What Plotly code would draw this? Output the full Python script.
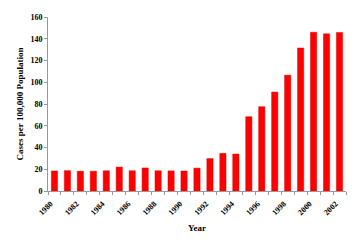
import plotly.graph_objects as go

years = [str(y) for y in range(1980, 2003)]
cases = [18.4, 18.7, 18.2, 18.2, 18.6, 22.0, 18.6, 21.2, 18.6, 18.5, 18.4,
         21.0, 29.8, 34.6, 34.0, 68.3, 77.5, 91.0, 106.5, 131.5, 146.0, 144.5, 145.8]
tick_labels = [y if int(y) % 2 == 0 else "" for y in years]

font_fam = "Liberation Serif"

fig = go.Figure(go.Bar(x=years, y=cases, marker=dict(color="#ff0000", line=dict(color="#e00000", width=0.5))))
fig.update_layout(
    width=358, height=248,
    margin=dict(l=48, r=12, t=17, b=57),
    paper_bgcolor="white", plot_bgcolor="white",
    bargap=0.52,
    showlegend=False,
    font=dict(family=font_fam, size=8, color="black"),
)
fig.update_xaxes(
    type="category",
    tickmode="array", tickvals=years, ticktext=tick_labels,
    tickangle=-45,
    tickfont=dict(family=font_fam, size=8, color="black", weight="bold"),
    showline=True, linecolor="#999999", linewidth=1,
    ticks="outside", ticklen=3, tickcolor="#999999", tickson="boundaries",
    ticklabelstandoff=4, ticklabelshift=-4,
    title=dict(text="<b>Year</b>", font=dict(family=font_fam, size=9, color="black"), standoff=8),
    showgrid=False,
)
fig.update_yaxes(
    range=[0, 160], tickmode="linear", tick0=0, dtick=20,
    tickfont=dict(family=font_fam, size=8, color="black", weight="bold"),
    showline=True, linecolor="#999999", linewidth=1,
    ticks="outside", ticklen=3, tickcolor="#999999",
    title=dict(text="<b>Cases per 100,000 Population</b>", font=dict(family=font_fam, size=9, color="black"), standoff=5),
    showgrid=False, zeroline=False,
)
fig.write_html("out.html")
